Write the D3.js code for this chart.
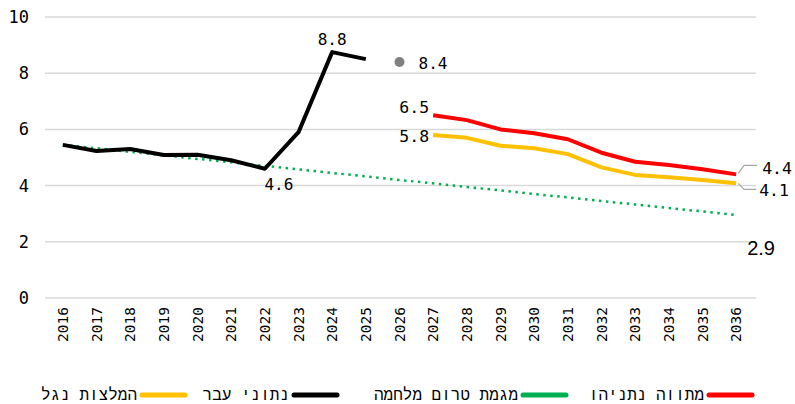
<!DOCTYPE html>
<html><head><meta charset="utf-8">
<script src="https://cdn.jsdelivr.net/npm/d3@7"></script>
<style>body{margin:0;background:#fff}svg{display:block}</style>
</head><body>
<svg id="c" width="795" height="404"></svg>
<script>
const years = ["2016","2017","2018","2019","2020","2021","2022","2023","2024","2025","2026","2027","2028","2029","2030","2031","2032","2033","2034","2035","2036"];
const pastData = [5.45,5.23,5.3,5.09,5.1,4.9,4.6,5.9,8.75,8.5,null,null,null,null,null,null,null,null,null,null,null];
const prewarTrend = [5.45,5.33,5.2,5.08,4.95,4.83,4.7,4.58,4.45,4.33,4.2,4.08,3.95,3.83,3.7,3.58,3.45,3.33,3.2,3.08,2.95];
const netanyahuPlan = [null,null,null,null,null,null,null,null,null,null,null,6.5,6.33,6.0,5.86,5.65,5.17,4.85,4.73,4.58,4.4];
const nagelRec = [null,null,null,null,null,null,null,null,null,null,null,5.8,5.7,5.42,5.33,5.12,4.65,4.38,4.3,4.2,4.08];
const estimate2026 = {year:"2026", value:8.4};
const yTicks = [0,2,4,6,8,10];
const legendNames = ["מתווה נתניהו","מגמת טרום מלחמה","נתוני עבר","המלצות נגל"];
const legendColors = ["#ff0000","#00b050","#000000","#ffc000"];

const svg = d3.select("#c");
const x = d3.scaleBand().domain(years).range([46,753]);
const y = d3.scaleLinear().domain([0,10]).range([298,17]);
const cx = d => x(d) + x.bandwidth()/2;
const mono = "DejaVu Sans Mono, monospace";
const sans = "Liberation Sans, Arial, sans-serif";

// gridlines
svg.append("g").selectAll("line").data(yTicks).join("line")
  .attr("x1",45).attr("x2",756).attr("y1",d=>y(d)).attr("y2",d=>y(d))
  .attr("stroke","#d9d9d9").attr("stroke-width",1.5);

// y axis
const yAxis = svg.append("g").attr("transform","translate(35,0)")
  .call(d3.axisLeft(y).tickValues(yTicks).tickSize(0).tickPadding(6));
yAxis.select(".domain").remove();
yAxis.selectAll("text").attr("font-family",mono).attr("font-size",17).attr("fill","#000");

// x axis
const xAxis = svg.append("g").attr("transform","translate(0,298)")
  .call(d3.axisBottom(x).tickSize(0));
xAxis.select(".domain").remove();
xAxis.selectAll("text").attr("font-family",mono).attr("font-size",14.5).attr("fill","#000")
  .attr("transform","rotate(-90)").attr("text-anchor","end")
  .attr("x",-9).attr("y",0).attr("dy","0.35em");

const line = d3.line().defined(d=>d.v!=null).x(d=>cx(d.k)).y(d=>y(d.v));
const ser = arr => years.map((k,i)=>({k, v:arr[i]}));

svg.append("path").datum(ser(prewarTrend)).attr("d",line)
  .attr("fill","none").attr("stroke","#00b050").attr("stroke-width",2.5)
  .attr("stroke-dasharray","2.5,4.5");
svg.append("path").datum(ser(pastData)).attr("d",line)
  .attr("fill","none").attr("stroke","#000").attr("stroke-width",4).attr("stroke-linejoin","round");
svg.append("path").datum(ser(nagelRec)).attr("d",line)
  .attr("fill","none").attr("stroke","#ffc000").attr("stroke-width",4).attr("stroke-linejoin","round");
svg.append("path").datum(ser(netanyahuPlan)).attr("d",line)
  .attr("fill","none").attr("stroke","#ff0000").attr("stroke-width",4).attr("stroke-linejoin","round");

svg.append("circle").attr("cx",cx(estimate2026.year)).attr("cy",y(estimate2026.value)).attr("r",5).attr("fill","#808080");

// data labels
const lab = (t,xx,yy,anchor,font,fs)=>svg.append("text").text(t).attr("x",xx).attr("y",yy)
  .attr("text-anchor",anchor).attr("dy","0.35em").attr("font-family",font).attr("font-size",fs||16).attr("fill","#000");
lab("8.8", cx("2024"), y(8.75)-13, "middle", mono);
lab("4.6", cx("2022")+14, y(4.6)+16, "middle", mono);
lab("8.4", cx(estimate2026.year)+19, y(estimate2026.value)+1, "start", mono);
lab("6.5", cx("2027")-4, y(6.5)-8, "end", mono, 16.5);
lab("5.8", cx("2027")-4, y(5.8)+1, "end", mono, 16.5);
lab("2.9", cx("2036")+11, y(2.95)+33, "start", sans, 20);
const lastX = cx("2036");
svg.append("path").attr("d",`M${lastX+2},${y(4.4)-1}L${lastX+8},${y(4.4)-9}L${lastX+21},${y(4.4)-9}`)
  .attr("fill","none").attr("stroke","#a6a6a6").attr("stroke-width",1.2);
svg.append("path").attr("d",`M${lastX+2},${y(4.08)}L${lastX+8},${y(4.08)+6}L${lastX+20},${y(4.08)+6}`)
  .attr("fill","none").attr("stroke","#a6a6a6").attr("stroke-width",1.2);
lab("4.4", lastX+26, y(4.4)-6, "start", mono, 16.5);
lab("4.1", lastX+23, y(4.08)+7, "start", mono, 16.5);

// legend
const lg = svg.append("g");
const swatchRight = [755, 569, 340, 188];
legendNames.forEach((name,i)=>{
  const rx = swatchRight[i];
  lg.append("line").attr("x1",rx-46).attr("x2",rx-3).attr("y1",395).attr("y2",395)
    .attr("stroke",legendColors[i]).attr("stroke-width",5).attr("stroke-linecap","round");
  lg.append("text").text(name).attr("x",rx-51).attr("y",394).attr("dy","0.35em")
    .attr("text-anchor","end").attr("font-family","Liberation Mono, monospace").attr("font-size",16).attr("fill","#000");
});
</script>
</body></html>
